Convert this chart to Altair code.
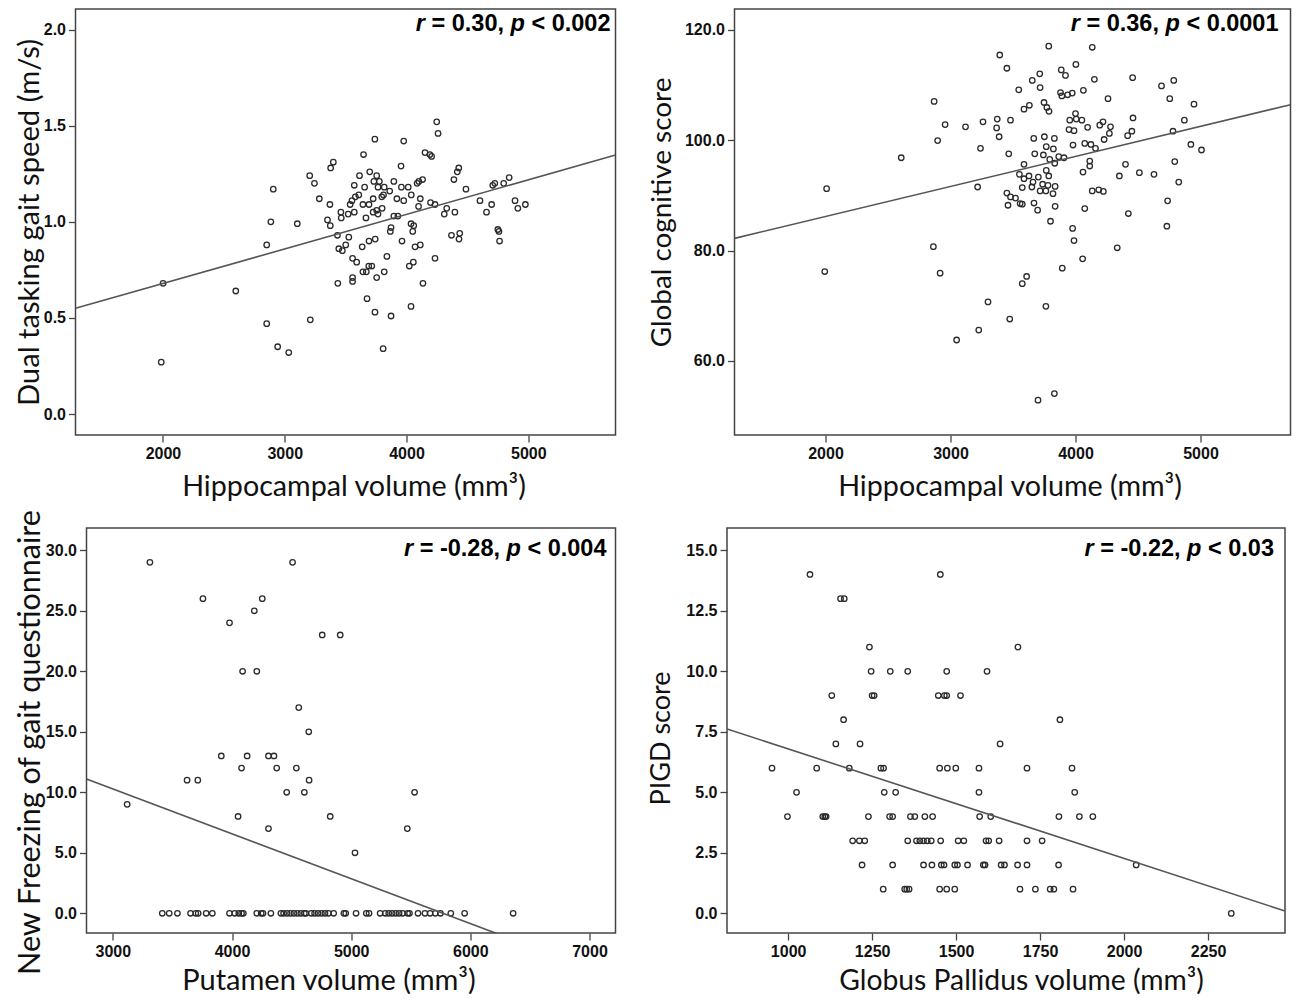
import altair as alt
import pandas as pd

# ---------------- data ----------------
# Panel A: hippocampal volume vs dual tasking gait speed
hip_a = [4248,4259,3740,3977,3647,4152,4192,4206,3399,3377,
         3955,4429,4417,4389,3205,3244,2906,3614,3698,3755,
         3732,3777,3571,3656,3766,3817,3862,3896,3958,4014,
         4087,4101,4132,4039,3977,3921,4113,4099,4197,4234,
         4488,4708,4725,4798,4843,4603,4699,4891,4976,4914,
         4657,4330,4310,4397,3284,3371,3552,3580,3608,3642,
         3692,3726,3797,3811,3537,3461,3521,3571,3464,3667,
         3726,3755,3800,3766,3351,3374,2886,3103,3896,3929,
         3873,3867,4037,4059,4051,3433,3526,3743,3692,3963,
         4369,4437,4431,4750,4759,4764,2852,3444,3501,3473,
         3636,4070,4113,3557,3591,3839,4234,3690,3715,4023,
         4056,3642,3817,3670,3557,3557,3755,3436,4135,2001,
         2598,3676,3741,3873,4037,2852,3210,2942,3033,3808,1986]
gait = [1.52,1.46,1.43,1.42,1.35,1.36,1.35,1.34,1.31,1.28,
        1.29,1.28,1.26,1.22,1.24,1.20,1.17,1.24,1.26,1.24,
        1.21,1.21,1.19,1.18,1.18,1.18,1.16,1.21,1.18,1.18,
        1.20,1.21,1.22,1.14,1.11,1.12,1.12,1.08,1.10,1.09,
        1.17,1.19,1.20,1.20,1.23,1.11,1.09,1.11,1.09,1.07,
        1.05,1.07,1.04,1.05,1.12,1.09,1.11,1.13,1.14,1.09,
        1.09,1.12,1.13,1.14,1.09,1.05,1.04,1.05,1.02,1.02,
        1.05,1.06,1.07,1.04,1.01,0.98,1.00,0.99,1.03,1.03,
        0.97,0.95,0.99,0.98,0.95,0.93,0.92,0.91,0.90,0.90,
        0.93,0.94,0.91,0.96,0.95,0.90,0.88,0.86,0.88,0.85,
        0.87,0.87,0.88,0.81,0.79,0.82,0.81,0.77,0.77,0.77,
        0.79,0.74,0.74,0.74,0.71,0.69,0.71,0.68,0.68,0.68,
        0.64,0.60,0.53,0.51,0.56,0.47,0.49,0.35,0.32,0.34,0.27]
fit_a_x = [1282, 5716]
fit_a_y = [0.550, 1.347]

# Panel B: hippocampal volume vs global cognitive score
hip_b = [3786,4134,3394,3451,4003,3886,3920,3714,3654,3717,
         3546,4151,4457,4688,4786,4754,4948,3880,3891,3937,
         3974,4063,4260,2869,3588,3631,3748,3771,3788,2957,
         3120,3260,3374,3480,3369,3389,2897,3240,3466,2606,
         4000,3954,4006,4051,4097,3948,3988,4220,4280,4194,
         4460,4871,4780,4451,4417,4271,4229,3666,3751,3831,
         3980,4074,4123,4160,3674,3743,3766,3823,3866,3908,
         3794,3834,3588,3766,4114,4114,4060,4400,4351,4511,
         4628,4794,4923,5008,4826,3551,3628,3703,3786,3588,
         3660,3737,3780,3837,3574,3651,3717,3763,3820,3217,
         3451,3480,3520,3557,3574,3460,3668,3697,3837,4134,
         4186,4223,4074,4737,4423,3800,3977,3988,4731,4057,
         4334,2863,2009,1994,2917,3894,3609,3574,3300,3763,
         3474,3226,3049,3700,3831]
cog = [117.0,116.8,115.4,113.0,113.7,112.7,111.7,112.0,110.8,109.5,
       109.1,111.0,111.3,109.8,110.8,107.5,106.5,108.6,108.0,108.2,
       108.5,109.0,107.5,107.0,105.6,106.3,106.8,105.9,105.2,102.8,
       102.4,103.3,103.8,103.6,102.2,100.6,99.9,98.5,97.5,96.8,
       104.8,103.6,103.8,103.6,102.3,101.9,101.7,103.3,102.4,102.7,
       104.0,103.6,101.6,101.6,100.8,101.2,100.1,100.3,100.6,100.3,
       99.1,99.4,99.2,98.5,97.5,97.3,98.8,98.4,97.0,96.8,
       96.5,95.8,95.6,94.5,96.2,95.3,94.2,95.6,93.5,94.1,
       93.8,96.1,99.2,98.2,92.4,93.8,93.5,93.3,93.5,93.0,
       92.4,92.0,91.8,91.6,91.4,91.5,90.8,90.8,90.3,91.5,
       90.4,89.7,89.5,88.5,88.4,88.2,88.6,87.3,88.0,90.8,
       91.0,90.7,87.6,89.0,86.7,85.3,84.0,81.8,84.4,78.5,
       80.5,80.7,91.2,76.2,75.9,76.8,75.3,74.0,70.7,69.9,
       67.6,65.6,63.8,52.9,54.1]
fit_b_x = [1272, 5720]
fit_b_y = [82.2, 106.4]

# Panel C: putamen volume vs NFOG-Q
put = [3311,4508,3756,4254,4187,3979,4757,4908,4089,4208,
       4560,4644,3910,4127,4306,4352,4080,4375,4540,3623,
       3713,4647,4459,4607,5532,3120,4051,4824,4306,5471,5032,
       3415,3473,3542,3652,3696,3716,3783,3835,3979,4023,
       4057,4080,4095,4208,4245,4260,4326,4410,4433,4462,
       4491,4520,4549,4578,4607,4621,4665,4693,4722,4751,
       4780,4809,4853,4939,4954,5041,5127,5150,5243,5286,
       5315,5344,5373,5402,5431,5474,5489,5561,5619,5662,
       5706,5749,5836,5952,6359]
fog = [29,29,26,26,25,24,23,23,20,20,
       17,15,13,13,13,13,12,12,12,11,
       11,11,10,10,10,9,8,8,7,7,5,
       0,0,0,0,0,0,0,0,0,0,
       0,0,0,0,0,0,0,0,0,0,
       0,0,0,0,0,0,0,0,0,0,
       0,0,0,0,0,0,0,0,0,0,
       0,0,0,0,0,0,0,0,0,0,
       0,0,0,0,0]
fit_c_x = [2779, 7218]
fit_c_y = [11.1, -5.37]

# Panel D: globus pallidus volume vs PIGD score
gp = [1065,1453, 1156,1167, 1242,1684,
      1247,1304,1356,1472,1592,
      1130,1250,1256,1447,1465,1472,1513,
      1165,1809,
      1142,1214,1631,
      952,1085,1182,1276,1284,1451,1474,1499,1568,1711,1845,
      1025,1286,1320,1568,1853,
      998,1103,1109,1113,1239,1302,1311,1364,1377,1407,1430,1570,1603,1806,1867,1907,
      1192,1212,1228,1356,1382,1392,1403,1414,1426,1454,1506,1523,1589,1597,1628,1711,1756,
      1220,1311,1403,1428,1456,1464,1496,1504,1534,1581,1586,1634,1644,1683,1711,1805,2036,
      1283,1347,1353,1360,1451,1472,1496,1690,1736,1780,1791,1848,
      2319]
pigd = [14,14, 13,13, 11,11,
        10,10,10,10,10,
        9,9,9,9,9,9,9,
        8,8,
        7,7,7,
        6,6,6,6,6,6,6,6,6,6,6,
        5,5,5,5,5,
        4,4,4,4,4,4,4,4,4,4,4,4,4,4,4,4,
        3,3,3,3,3,3,3,3,3,3,3,3,3,3,3,3,3,
        2,2,2,2,2,2,2,2,2,2,2,2,2,2,2,2,2,
        1,1,1,1,1,1,1,1,1,1,1,1,
        0]
fit_d_x = [818, 2479]
fit_d_y = [7.62, 0.10]

# ---------------- styling ----------------
TITLE_FONT = "Lato"
LABEL_FONT = "Liberation Sans"
ANN_FONT = "Liberation Sans"
ANN_SIZE = 23.5
POINT_COLOR = "#2b2b2b"
LINE_COLOR = "#555555"
FRAME = "#444444"

# Arial/Liberation Sans Bold advance widths (em) for annotation layout
_W = {"r": 0.389, " ": 0.278, "=": 0.584, "<": 0.584, ".": 0.278, ",": 0.278,
      "p": 0.611, "-": 0.333}


def _width(s, size):
    return sum(_W.get(c, 0.556) for c in s) * size


def annotation(pieces, right, base):
    """pieces: list of (text, italic); laid out left to right, ending at `right`."""
    gap = _W[" "] * ANN_SIZE
    total = sum(_width(t, ANN_SIZE) for t, _ in pieces) + gap * (len(pieces) - 1)
    x = right - total
    out = []
    for t, italic in pieces:
        out.append(
            alt.Chart(pd.DataFrame({"t": [t]}))
            .mark_text(align="left", baseline="alphabetic", font=ANN_FONT,
                       fontSize=ANN_SIZE, fontWeight="bold", clip=True,
                       fontStyle="italic" if italic else "normal", color="black")
            .encode(text="t:N", x=alt.value(x), y=alt.value(base))
        )
        x += _width(t, ANN_SIZE) + gap
    return out


def panel(xs, ys, lx, ly, xdom, ydom, xticks, yticks, xtitle, ytitle, w, h,
          xt_pos, yt_pos, xt_size, yt_size, ann, ann_right, ann_base, inset=0):
    """inset > 0: the plot area starts `inset` px right of the view's left edge."""
    df = pd.DataFrame({"x": xs, "y": ys})
    ldf = pd.DataFrame({"x": lx, "y": ly})
    if inset:
        xsc = alt.Scale(domain=xdom, nice=False, zero=False, range=[inset, w])
    else:
        xsc = alt.Scale(domain=xdom, nice=False, zero=False)
    ysc = alt.Scale(domain=ydom, nice=False, zero=False)
    xax = alt.Axis(values=xticks, format="d", title=xtitle, titleFontSize=xt_size,
                   titleX=xt_pos[0] + inset, titleY=xt_pos[1], titleAngle=0,
                   titleAlign="center", titleBaseline="alphabetic")
    yax = alt.Axis(values=yticks, format=".1f", title=ytitle, titleFontSize=yt_size,
                   titleX=yt_pos[0], titleY=yt_pos[1], titleAngle=270,
                   titleAlign="center", titleBaseline="alphabetic", offset=-inset)
    pts = alt.Chart(df).mark_point(
        shape="circle", filled=False, size=30, strokeWidth=1.3,
        color=POINT_COLOR, opacity=1, clip=True
    ).encode(x=alt.X("x:Q", scale=xsc, axis=xax),
             y=alt.Y("y:Q", scale=ysc, axis=yax))
    line = alt.Chart(ldf).mark_line(color=LINE_COLOR, strokeWidth=1.6, clip=True).encode(
        x="x:Q", y="y:Q")
    layers = [pts, line]
    props = dict(width=w, height=h)
    if inset:
        frame = alt.Chart(pd.DataFrame({"f": [0]})).mark_rect(
            fillOpacity=0, stroke=FRAME, strokeWidth=1.5
        ).encode(x=alt.value(inset), x2=alt.value(w), y=alt.value(0), y2=alt.value(h))
        layers.append(frame)
        props["view"] = alt.ViewBackground(strokeOpacity=0)
    layers += annotation(ann, ann_right + inset, ann_base)
    return alt.layer(*layers).properties(**props)


XT_HIP = "Hippocampal volume (mm³)"

p1 = panel(hip_a, gait, fit_a_x, fit_a_y, [1282, 5716], [-0.109, 2.107],
           [2000, 3000, 4000, 5000], [0.0, 0.5, 1.0, 1.5, 2.0],
           XT_HIP, "Dual tasking gait speed (m/s)", 540, 426,
           (278, 60), (-37.5, 213), 28.7, 29.2,
           [("r", True), ("= 0.30,", False), ("p", True), ("< 0.002", False)], 535, 21.6)

p2 = panel(hip_b, cog, fit_b_x, fit_b_y, [1272, 5720], [46.6, 123.73],
           [2000, 3000, 4000, 5000], [60, 80, 100, 120],
           XT_HIP, "Global cognitive score", 556, 426,
           (275, 60), (-64, 203), 28.7, 27.9,
           [("r", True), ("= 0.36,", False), ("p", True), ("< 0.0001", False)], 544, 21.6)

# bottom-left panel: plot area inset 11 px inside a 540 px wide view
p3 = panel(put, fog, fit_c_x, fit_c_y, [2779, 7218], [-1.63, 31.84],
           [3000, 4000, 5000, 6000, 7000], [0, 5, 10, 15, 20, 25, 30],
           "Putamen volume (mm³)", "New Freezing of gait questionnaire", 540, 405,
           (242, 56), (-47.5, 214), 29, 30.5,
           [("r", True), ("= -0.28,", False), ("p", True), ("< 0.004", False)], 520, 28.3,
           inset=11)

p4 = panel(gp, pigd, fit_d_x, fit_d_y, [818, 2479], [-0.81, 15.92],
           [1000, 1250, 1500, 1750, 2000, 2250], [0, 2.5, 5, 7.5, 10, 12.5, 15],
           "Globus Pallidus volume (mm³)", "PIGD score", 558, 405,
           (294, 56), (-58, 210), 28.3, 27,
           [("r", True), ("= -0.22,", False), ("p", True), ("< 0.03", False)], 547, 28.3)

row1 = alt.hconcat(p1, p2, spacing=31)
row2 = alt.hconcat(p3, p4, spacing=29.5)

chart = (
    alt.vconcat(row1, row2, spacing=6)
    .properties(padding={"left": 5.5, "top": 0, "right": 0, "bottom": -1})
    .configure_view(stroke=FRAME, strokeWidth=1.5)
    .configure_axis(
        grid=False, domain=False, ticks=True, tickSize=7, tickWidth=1.3,
        tickColor=FRAME, labelFont=LABEL_FONT, labelFontSize=16,
        labelFontWeight="bold", labelColor="#111111", labelPadding=3,
        labelFlush=False, labelOverlap=False,
        titleFont=TITLE_FONT, titleFontWeight="normal",
        titleColor="#111111",
    )
)

chart.save("out.html", embed_options={"renderer": "svg", "actions": False})
